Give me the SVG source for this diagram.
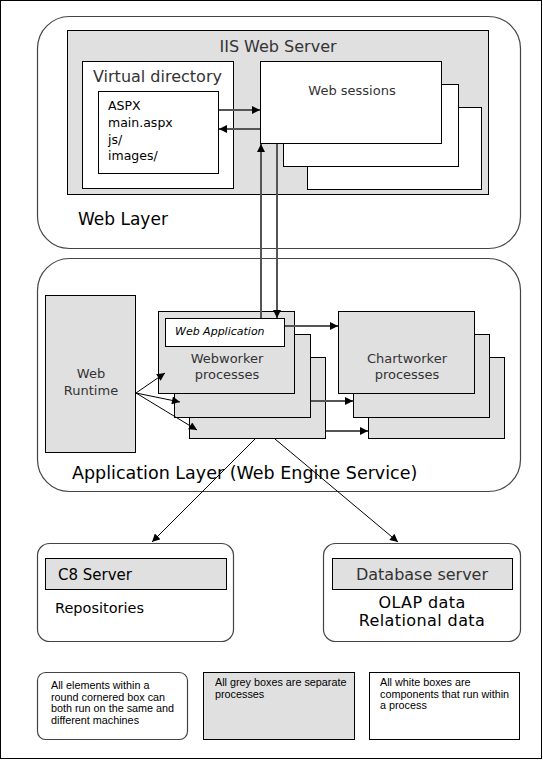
<svg xmlns="http://www.w3.org/2000/svg" width="543" height="760" viewBox="0 0 543 760">
<style>
.layer{fill:#fff;stroke:#444;stroke-width:1.2}
.grey{fill:#e0e0e0;stroke:#000;stroke-width:1}
.white{fill:#fff;stroke:#000;stroke-width:1}
.t{font-family:"DejaVu Sans",Verdana,sans-serif;fill:#333}
.tb{font-family:"DejaVu Sans",Verdana,sans-serif;fill:#000}
.leg{font-family:"Liberation Sans",Arial,sans-serif;font-size:10.8px;fill:#000}
.c{stroke:#555;stroke-width:2;fill:none}
.d{stroke:#000;stroke-width:1;fill:none}
</style>
<defs>
<marker id="ah" viewBox="0 0 10 10" refX="10" refY="5" markerWidth="9" markerHeight="8" markerUnits="userSpaceOnUse" orient="auto"><path d="M0,0 L10,5 L0,10 z" fill="#000"/></marker>
</defs>
<rect x="0.5" y="0.5" width="541" height="758" fill="#fff" stroke="#000"/>

<g id="web-layer">
<rect class="layer" x="37.5" y="16.5" width="483" height="232" rx="32"/>
<text class="tb" x="78" y="225" font-size="17">Web Layer</text>
</g>
<g id="iis">
<rect class="grey" x="67.5" y="30.5" width="421" height="164"/>
<text class="t" x="278" y="52" font-size="16" text-anchor="middle" fill="#555">IIS Web Server</text>
</g>
<g id="virtual-directory">
<rect class="white" x="82.5" y="61.5" width="151" height="127"/>
<text class="t" x="93" y="82" font-size="16">Virtual directory</text>
</g>
<g id="aspx">
<rect class="white" x="98.5" y="91.5" width="120" height="82"/>
<text class="tb" font-size="12.5"><tspan x="108" y="110">ASPX</tspan><tspan x="108" y="127">main.aspx</tspan><tspan x="108" y="143.5">js/</tspan><tspan x="108" y="160">images/</tspan></text>
</g>
<g id="web-sessions">
<rect class="white" x="307.5" y="107.5" width="174" height="82"/>
<rect class="white" x="283.5" y="84.5" width="175" height="82"/>
<rect class="white" x="260.5" y="61.5" width="181" height="82"/>
<text class="t" x="352" y="95" font-size="13" text-anchor="middle">Web sessions</text>
</g>

<g id="app-layer">
<rect class="layer" x="37.5" y="258.5" width="483" height="233" rx="32"/>
<text class="tb" x="72" y="479" font-size="17.5">Application  Layer (Web Engine Service)</text>
</g>
<g id="web-runtime">
<rect class="grey" x="45.5" y="295.5" width="90" height="157"/>
<text class="t" font-size="13" text-anchor="middle"><tspan x="91" y="378">Web</tspan><tspan x="91" y="395">Runtime</tspan></text>
</g>
<g id="webworker">
<rect class="grey" x="189.5" y="357.5" width="136" height="81"/>
<rect class="grey" x="174.5" y="334.5" width="136" height="83"/>
<rect class="grey" x="158.5" y="311.5" width="136" height="82"/>
<text class="t" font-size="13" text-anchor="middle"><tspan x="227" y="363">Webworker</tspan><tspan x="227" y="379">processes</tspan></text>
</g>
<g id="web-application">
<rect class="white" x="165.5" y="318.5" width="119" height="28"/>
<text class="tb" x="175" y="335" font-size="11" font-style="italic">Web Application</text>
</g>
<g id="chartworker">
<rect class="grey" x="368.5" y="357.5" width="136" height="81"/>
<rect class="grey" x="353.5" y="334.5" width="136" height="83"/>
<rect class="grey" x="338.5" y="311.5" width="136" height="82"/>
<text class="t" font-size="13" text-anchor="middle"><tspan x="407" y="363">Chartworker</tspan><tspan x="407" y="379">processes</tspan></text>
</g>

<g id="c8">
<rect class="layer" x="37.5" y="543.5" width="196" height="98" rx="12"/>
<rect class="grey" x="45.5" y="558.5" width="181" height="31"/>
<text class="tb" x="58" y="580" font-size="15">C8 Server</text>
<text class="tb" x="55" y="613" font-size="14.5">Repositories</text>
</g>
<g id="database">
<rect class="layer" x="323.5" y="543.5" width="197" height="98" rx="12"/>
<rect class="grey" x="332.5" y="558.5" width="180" height="31"/>
<text class="t" x="422" y="580" font-size="16" text-anchor="middle">Database server</text>
<text class="tb" font-size="16" text-anchor="middle" letter-spacing="0.4"><tspan x="422" y="607.5">OLAP data</tspan><tspan x="422" y="625.5">Relational data</tspan></text>
</g>

<g id="legend-round">
<rect class="layer" x="37.5" y="672.5" width="150" height="67" rx="8"/>
<text class="leg"><tspan x="51" y="689">All elements within a</tspan><tspan x="51" y="700.5">round cornered box can</tspan><tspan x="51" y="712">both run on the same and</tspan><tspan x="51" y="723.5">different machines</tspan></text>
</g>
<g id="legend-grey">
<rect class="grey" x="203.5" y="672.5" width="151" height="67"/>
<text class="leg"><tspan x="215" y="686">All grey boxes are separate</tspan><tspan x="215" y="697.5">processes</tspan></text>
</g>
<g id="legend-white">
<rect class="white" x="369.5" y="672.5" width="150" height="67"/>
<text class="leg"><tspan x="380" y="686">All white boxes are</tspan><tspan x="380" y="697.5">components that run within</tspan><tspan x="380" y="709">a process</tspan></text>
</g>

<g id="connectors">
<line class="c" x1="219" y1="110" x2="260" y2="110" marker-end="url(#ah)"/>
<line class="c" x1="260" y1="129" x2="219" y2="129" marker-end="url(#ah)"/>
<line class="c" x1="261" y1="318" x2="261" y2="144" marker-end="url(#ah)"/>
<line class="c" x1="277" y1="144" x2="277" y2="318" marker-end="url(#ah)"/>
<line class="c" x1="285" y1="326" x2="338" y2="326" marker-end="url(#ah)"/>
<line class="c" x1="311" y1="401" x2="353" y2="401" marker-end="url(#ah)"/>
<line class="c" x1="326" y1="431" x2="368" y2="431" marker-end="url(#ah)"/>
<line class="d" x1="136" y1="393" x2="165" y2="373" marker-end="url(#ah)"/>
<line class="d" x1="136" y1="393" x2="180" y2="402" marker-end="url(#ah)"/>
<line class="d" x1="136" y1="393" x2="197" y2="430" marker-end="url(#ah)"/>
<line class="d" x1="255" y1="439" x2="152" y2="542" marker-end="url(#ah)"/>
<line class="d" x1="275" y1="439" x2="398" y2="542" marker-end="url(#ah)"/>
</g>
</svg>
